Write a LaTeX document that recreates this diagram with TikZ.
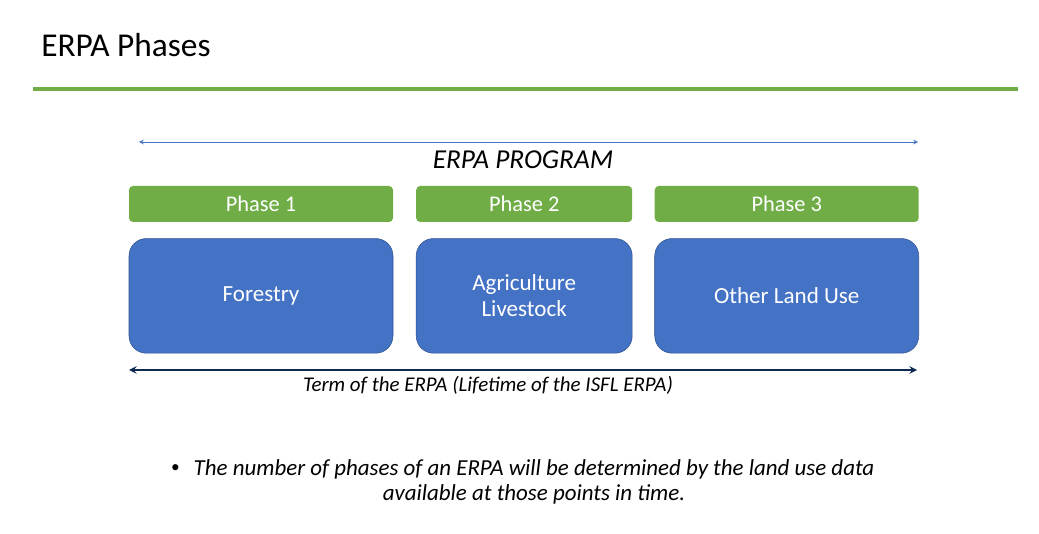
\documentclass[tikz,border=0pt]{standalone}
\usepackage{fontspec}
\setmainfont{Carlito}
\usetikzlibrary{positioning}

\definecolor{slidegreen}{HTML}{70AD47}
\definecolor{slideblue}{HTML}{4472C4}
\definecolor{blueedge}{HTML}{2F528F}
\definecolor{termnavy}{HTML}{0E2A50}

\begin{document}
\begin{tikzpicture}[
    x=0.75pt,
    y=-0.75pt,
    >=stealth,
    phase/.style={
        fill=slidegreen,
        rounded corners=3pt,
        text=white,
        font=\fontsize{16.8}{20}\selectfont,
        minimum height=27pt,
        inner sep=0pt
    },
    sector/.style={
        draw=blueedge,
        fill=slideblue,
        rounded corners=13pt,
        text=white,
        align=center,
        font=\fontsize{17.3}{19.5}\selectfont,
        minimum height=86pt,
        inner sep=0pt
    },
    note/.style={
        font=\fontsize{17.2}{20}\selectfont\itshape,
        inner sep=0pt
    }
]

\useasboundingbox (0,0) rectangle (1039,534);

%%%%%%%%%%%%%%%%%%%%%%%%%%%%%%%%%%%%%%%%%%%%%%%%%%%%
%% Title
%%%%%%%%%%%%%%%%%%%%%%%%%%%%%%%%%%%%%%%%%%%%%%%%%%%%

\node[anchor=west, inner sep=0pt, font=\fontsize{25}{29}\selectfont] (title) at (41,45) {ERPA Phases};

\coordinate (ruleleft)  at (33,89);
\coordinate (ruleright) at (1018,89);
\draw[slidegreen, line width=3pt] (ruleleft) -- (ruleright);

%%%%%%%%%%%%%%%%%%%%%%%%%%%%%%%%%%%%%%%%%%%%%%%%%%%%
%% Program
%%%%%%%%%%%%%%%%%%%%%%%%%%%%%%%%%%%%%%%%%%%%%%%%%%%%

\coordinate (progleft)  at (139,142);
\coordinate (progright) at (918,142);
\draw[<->, slideblue, line width=0.6pt] (progleft) -- (progright);

\node[inner sep=0pt, font=\fontsize{20.5}{24}\selectfont\itshape] (program) at (523,160) {ERPA PROGRAM};

%%%%%%%%%%%%%%%%%%%%%%%%%%%%%%%%%%%%%%%%%%%%%%%%%%%%
%% Phases
%%%%%%%%%%%%%%%%%%%%%%%%%%%%%%%%%%%%%%%%%%%%%%%%%%%%

\node[phase, minimum width=198pt] (phaseone) at (261,204) {Phase 1};
\node[phase, minimum width=162pt, right=17pt of phaseone] (phasetwo) {Phase 2};
\node[phase, minimum width=198pt, right=16.5pt of phasetwo] (phasethree) {Phase 3};

%%%%%%%%%%%%%%%%%%%%%%%%%%%%%%%%%%%%%%%%%%%%%%%%%%%%
%% Land uses
%%%%%%%%%%%%%%%%%%%%%%%%%%%%%%%%%%%%%%%%%%%%%%%%%%%%

\node[sector, minimum width=198pt, below=12pt of phaseone] (forestry) {Forestry};
\node[sector, minimum width=162pt, below=12pt of phasetwo] (agri) {Agriculture\\Livestock};
\node[sector, minimum width=198pt, below=12pt of phasethree] (otheruse) {Other Land Use};

%%%%%%%%%%%%%%%%%%%%%%%%%%%%%%%%%%%%%%%%%%%%%%%%%%%%
%% Term
%%%%%%%%%%%%%%%%%%%%%%%%%%%%%%%%%%%%%%%%%%%%%%%%%%%%

\coordinate (termleft)  at (129,370);
\coordinate (termright) at (917,370);
\draw[<->, termnavy, line width=1.5pt] (termleft) -- (termright);

\node[inner sep=0pt, font=\fontsize{15.7}{18}\selectfont\itshape] (term) at (488,385) {Term of the ERPA (Lifetime of the ISFL ERPA)};

%%%%%%%%%%%%%%%%%%%%%%%%%%%%%%%%%%%%%%%%%%%%%%%%%%%%
%% Note
%%%%%%%%%%%%%%%%%%%%%%%%%%%%%%%%%%%%%%%%%%%%%%%%%%%%

\node[note] (noteone) at (534,469) {The number of phases of an ERPA will be determined by the land use data};
\node[note] (notetwo) at (534,494) {available at those points in time.};
\node[inner sep=0pt, font=\fontsize{13}{16}\selectfont, left=10pt of noteone] (bullet) {•};

\end{tikzpicture}
\end{document}
